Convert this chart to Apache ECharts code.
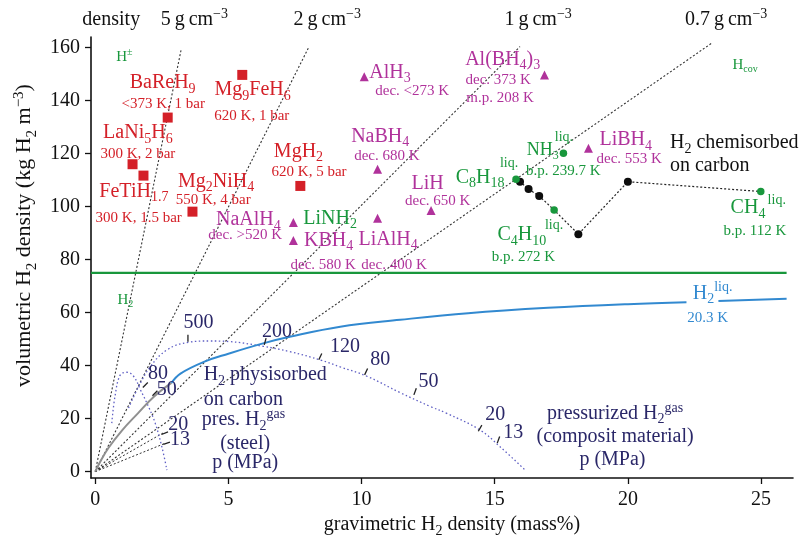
<!DOCTYPE html>
<html>
<head>
<meta charset="utf-8">
<style>
  html, body { margin: 0; padding: 0; background: #fff; }
  #chart { width: 804px; height: 538px; }
</style>
<script src="https://cdn.jsdelivr.net/npm/echarts@6/dist/echarts.min.js"></script>
</head>
<body>
<div id="chart"></div>
<script>
// gravimetric H2 density (mass%) vs volumetric H2 density (kg H2 m-3)
const xTicks = [0, 5, 10, 15, 20, 25]
const yTicks = [0, 20, 40, 60, 80, 100, 120, 140, 160]

const metalHydrides = [[5.52, 149.7], [2.72, 133.6], [1.40, 116], [1.81, 111.7], [3.65, 98.1], [7.70, 107.8]]
const complexHydrides = [[10.1, 149], [16.87, 149.7], [10.6, 114.1], [7.44, 94], [7.44, 87.2], [10.6, 95.6], [12.61, 98.5], [18.52, 122]]
const liquids = [[17.58, 120.1], [15.8, 110.3], [17.23, 98.7], [24.99, 105.7]]
const chemisorbed = [[15.95, 109.4], [16.27, 106.6], [16.67, 104], [18.14, 89.6], [20.0, 109.4]]
const chemisorbedPath = [[15.8, 110.3], [15.95, 109.4], [16.27, 106.6], [16.67, 104], [17.23, 98.7], [18.14, 89.6], [20.0, 109.4], [24.99, 105.7]]

const physisorbed = [[0, 0], [0.2, 4], [0.5, 9], [1, 15.5], [1.6, 22], [2.2, 28.3], [2.86, 33.5]]
const h2Liquid = [[2.86, 33.5], [3.2, 37], [4.1, 41.5], [5, 44.5], [6.3, 48.4], [7.3, 50.9], [9.2, 54.7], [11.45, 57.3], [14, 59.8], [17, 61.8], [20, 63.2], [22.2, 63.9]]
const h2LiquidEnd = [[23.4, 64.4], [25.96, 65.2]]
const solidH2 = [[-0.16, 75], [25.96, 75]]

const steelTank = [[0.62, 18.3], [0.75, 29], [0.94, 36.5], [1.19, 37.5], [1.44, 36], [1.69, 31], [2.0, 24.5], [2.25, 18.3], [2.5, 9.4], [2.69, 0.6]]
const compositeTank = [[1.25, 24], [1.6, 31.5], [2.06, 39.5], [2.7, 46], [3.5, 48.8], [4.3, 49.3], [5, 49.1], [6.3, 47.3], [7.3, 45.3], [8.5, 42], [9.2, 39.5], [10.2, 36], [11.45, 29.8], [12.6, 24.5], [13.2, 22], [14.45, 15.7], [15.2, 9.4], [16.15, 0.5]]

// lines of constant material density, from the origin
const density5 = [[0, 0], [3.22, 159]]
const density2 = [[0, 0], [8.0, 159.8]]
const density1 = [[0, 0], [15.95, 160.4]]
const density07 = [[0, 0], [23.15, 161.7]]
const steelGuide20 = [[0, 0], [2.55, 14.6]]
const steelGuide13 = [[0, 0], [2.6, 10.6]]

// pressure marks: [MPa, dash x, dash y, label x, label y, dash angle]
const steelMarks = [[80, 1.88, 32.7, 2.36, 37.1, -45], [50, 2.24, 29.6, 2.68, 30.8, -45], [20, 2.61, 14.5, 3.12, 17.6, -68], [13, 2.68, 10.7, 3.18, 12, -70]]
const compositeMarks = [[500, 3.48, 50.3, 3.88, 56.3, 0], [200, 6.38, 49.1, 6.82, 52.8, -15], [120, 8.45, 43.4, 9.38, 47.2, -25], [80, 10.17, 37.7, 10.7, 42.2, -25], [50, 12.01, 30.2, 12.51, 34, -20], [20, 14.45, 16.4, 15.02, 21.4, -30], [13, 15.14, 12, 15.7, 14.5, -20]]

// text annotations: [text, x, y]
const headerLabels = [['density', 0.6, 170.6], ['5\u2009g\u2009cm{u|\u22123}', 3.72, 170.6], ['2\u2009g\u2009cm{u|\u22123}', 8.71, 170.6], ['1\u2009g\u2009cm{u|\u22123}', 16.63, 170.6], ['0.7\u2009g\u2009cm{u|\u22123}', 23.69, 170.6]]
const redNames = [['BaReH{s|9}', 2.53, 146.6], ['Mg{s|9}FeH{s|6}', 5.91, 144], ['LaNi{s|5}H{s|6}', 1.6, 127.7], ['Mg{s|2}NiH{s|4}', 4.54, 109.4], ['FeTiH{s|1.7}', 1.45, 105.7], ['MgH{s|2}', 7.63, 120.8]]
const redNotes = [['<373 K, 1 bar', 2.55, 138.6], ['620 K, 1 bar', 5.88, 134.2], ['300 K, 2 bar', 1.6, 119.9], ['550 K, 4 bar', 4.43, 102.5], ['300 K, 1.5 bar', 1.63, 95.6], ['620 K, 5 bar', 8.03, 113.2]]
const magNames = [['AlH{s|3}', 11.07, 150.5], ['Al(BH{s|4}){s|3}', 15.3, 155.4], ['NaBH{s|4}', 10.7, 126.4], ['LiH', 12.48, 108.8], ['LiBH{s|4}', 19.92, 125.2], ['NaAlH{s|4}', 5.75, 95], ['KBH{s|4}', 8.76, 87.2], ['LiAlH{s|4}', 11.0, 87.6]]
const magNotes = [['dec. <273 K', 11.9, 143.5], ['dec. 373 K', 15.13, 147.8], ['m.p. 208 K', 15.2, 140.9], ['dec. 680 K', 10.95, 119.1], ['dec. 650 K', 12.86, 102.2], ['dec. 553 K', 20.05, 117.9], ['dec. >520 K', 5.63, 89.3], ['dec. 580 K', 8.56, 78], ['dec. 400 K', 11.22, 78]]
const greenNames = [['LiNH{s|2}', 8.82, 95.6], ['C{s|8}H{s|18}', 14.45, 111], ['C{s|4}H{s|10}', 16.02, 89.3], ['CH{s|4}', 24.51, 99.4]]
const greenSmall = [['H{u|\u00b1}', 1.09, 156.6], ['H{s|cov}', 24.4, 153.5], ['H{s|2}', 1.13, 64.8], ['b.p. 239.7 K', 17.57, 113.6], ['b.p. 272 K', 16.08, 81.1], ['b.p. 112 K', 24.77, 90.6]]
const greenLiq = [['liq.', 17.6, 126.2], ['liq.', 15.54, 116.4], ['liq.', 17.23, 93.1], ['liq.', 25.59, 102.5]]
const ammonia = [['NH{s|3}', 16.8, 121.4]]
const chemLabels = [['H{s|2} chemisorbed', 21.58, 124], ['on carbon', 21.58, 115.5]]
const physLabels = [['H{s|2} physisorbed', 4.07, 36.5], ['on carbon', 4.07, 27.3], ['pres. H{s|2}{u|gas}', 4.0, 19.5]]
const steelNotes = [['(steel)', 5.63, 10.7], ['p (MPa)', 5.63, 3.2]]
const compositeNotes = [['pressurized H{s|2}{u|gas}', 19.52, 22], ['(composit material)', 19.52, 13.2], ['p (MPa)', 19.42, 4.4]]
const liquidNames = [['H{s|2}{u|liq.}', 23.18, 67.3]]
const liquidNotes = [['20.3 K', 23.0, 57.9]]

const SERIF = 'Liberation Serif'
const RED = '#d42028'
const MAG = '#b0329b'
const GREEN = '#18973c'
const BLUE = '#3289d0'
const NAVY = '#2a2768'
const INK = '#111'

function rich(color, size) {
  const small = Math.round(size * 0.68)
  return {
    s: { fontSize: small, fontFamily: SERIF, color: color, verticalAlign: 'middle', padding: [Math.round(size * 0.62), 0, 0, 0] },
    u: { fontSize: small, fontFamily: SERIF, color: color, verticalAlign: 'middle', padding: [0, 0, Math.round(size * 0.55), 0] }
  }
}

function textItems(list, color, size, align) {
  return list.map(function (t) {
    return {
      value: [t[1], t[2]],
      label: {
        show: true,
        position: 'inside',
        formatter: t[0],
        color: color,
        opacity: 1,
        fontSize: size,
        fontFamily: SERIF,
        align: align || 'center',
        verticalAlign: 'middle',
        rich: rich(color, size)
      }
    }
  })
}

function lineSeries(data, color, width, type, smooth) {
  return {
    type: 'line',
    data: data,
    symbol: 'none',
    smooth: smooth || false,
    silent: true,
    animation: false,
    lineStyle: { color: color, width: width, type: type, opacity: 1 },
    z: 2
  }
}

function markerSeries(data, symbol, size, color) {
  return {
    type: 'scatter',
    data: data,
    symbol: symbol,
    symbolSize: size,
    itemStyle: { color: color, opacity: 1 },
    silent: true,
    animation: false,
    z: 4
  }
}

const annotations = [].concat(
  textItems(headerLabels, INK, 20),
  textItems(redNames, RED, 20),
  textItems(redNotes, RED, 15),
  textItems(magNames, MAG, 20),
  textItems(magNotes, MAG, 15),
  textItems(greenNames, GREEN, 20),
  textItems(greenSmall, GREEN, 15),
  textItems(greenLiq, GREEN, 14),
  textItems(ammonia, GREEN, 18),
  textItems(chemLabels, INK, 20, 'left'),
  textItems(physLabels, NAVY, 20, 'left'),
  textItems(steelNotes, NAVY, 20),
  textItems(compositeNotes, NAVY, 20),
  textItems(liquidNames, BLUE, 20),
  textItems(liquidNotes, BLUE, 15),
  textItems(steelMarks.concat(compositeMarks).map(function (m) { return [String(m[0]), m[3], m[4]] }), NAVY, 20)
)

const dashes = steelMarks.concat(compositeMarks).map(function (m) {
  return { value: [m[1], m[2]], symbolRotate: m[5] }
})

const chart = echarts.init(document.getElementById('chart'))

const option = {
  backgroundColor: '#fff',
  animation: false,
  grid: { left: 91, right: 11, top: 37, bottom: 60, containLabel: false, outerBoundsMode: 'none' },
  xAxis: {
    type: 'value',
    min: -0.16,
    max: 26.2,
    name: 'gravimetric H{s|2} density (mass%)',
    nameLocation: 'middle',
    nameGap: 32,
    nameTextStyle: { fontFamily: SERIF, fontSize: 20, color: INK, padding: [0, 0, 0, 20], rich: rich(INK, 20) },
    axisLine: { show: true, onZero: false, lineStyle: { color: INK, width: 1.6 } },
    axisTick: { show: true, customValues: xTicks, length: 6, lineStyle: { color: INK, width: 1.3 } },
    axisLabel: { customValues: xTicks, fontFamily: SERIF, fontSize: 20, color: INK, margin: 12 },
    splitLine: { show: false }
  },
  yAxis: {
    type: 'value',
    min: -2.4,
    max: 164,
    name: 'volumetric H{s|2} density (kg H{s|2} m{u|\u22123})',
    nameLocation: 'middle',
    nameGap: 48,
    nameTextStyle: { fontFamily: SERIF, fontSize: 22, color: INK, padding: [0, 0, 0, 44], rich: rich(INK, 22) },
    axisLine: { show: true, onZero: false, lineStyle: { color: INK, width: 1.6 } },
    axisTick: { show: true, customValues: yTicks, length: 6, lineStyle: { color: INK, width: 1.3 } },
    axisLabel: { customValues: yTicks, fontFamily: SERIF, fontSize: 20, color: INK, margin: 11 },
    splitLine: { show: false }
  },
  series: [
    lineSeries(density5, '#333', 1.1, [2, 2]),
    lineSeries(density2, '#333', 1.1, [2, 2]),
    lineSeries(density1, '#333', 1.1, [2, 2]),
    lineSeries(density07, '#333', 1.1, [2, 2]),
    lineSeries(steelGuide20, '#333', 1, [2, 2]),
    lineSeries(steelGuide13, '#333', 1, [2, 2]),
    lineSeries(steelTank, '#5f5fc4', 1.3, [1.5, 2.5], 0.4),
    lineSeries(compositeTank, '#5f5fc4', 1.3, [1.5, 2.5], 0.4),
    lineSeries(solidH2, GREEN, 2.4, 'solid'),
    lineSeries(physisorbed, '#909090', 2, 'solid', 0.4),
    lineSeries(h2Liquid, BLUE, 2, 'solid', 0.4),
    lineSeries(h2LiquidEnd, BLUE, 2, 'solid'),
    lineSeries(chemisorbedPath, '#222', 1.2, [2, 2]),
    markerSeries(metalHydrides, 'rect', 10, RED),
    markerSeries(complexHydrides, 'triangle', 9, MAG),
    markerSeries(chemisorbed, 'circle', 8, '#0d0d0d'),
    markerSeries(liquids, 'circle', 7.5, GREEN),
    {
      type: 'scatter',
      data: dashes,
      symbol: 'rect',
      symbolSize: [1.3, 7],
      itemStyle: { color: '#222', opacity: 1 },
      silent: true,
      animation: false,
      z: 5
    },
    {
      type: 'scatter',
      data: annotations,
      symbol: 'circle',
      symbolSize: 1,
      itemStyle: { color: 'rgba(0,0,0,0)', opacity: 1 },
      clip: false,
      silent: true,
      animation: false,
      z: 6
    }
  ]
}

chart.setOption(option)
</script>
</body>
</html>
